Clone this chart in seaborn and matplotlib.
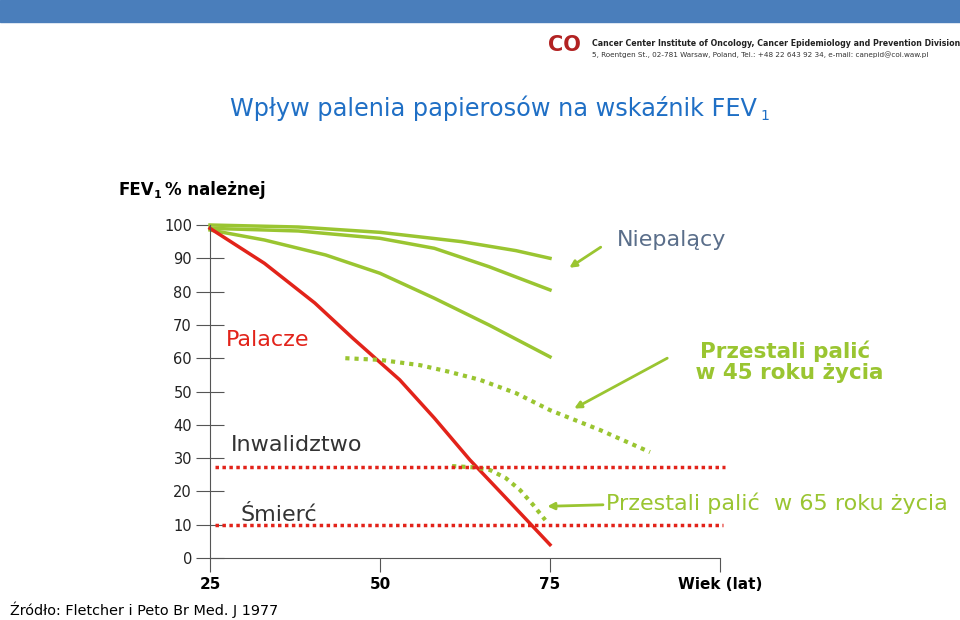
import matplotlib
matplotlib.use("Agg")
import matplotlib.pyplot as plt
import seaborn as sns

nonsmoker_x = [25, 38, 50, 62, 70, 75]
nonsmoker_y = [100, 99.4, 97.8, 95, 92.3, 90]
suscept_x = [25, 38, 50, 58, 66, 75]
suscept_y = [99, 98.2, 96, 93, 87.5, 80.5]
heavy_x = [25, 33, 42, 50, 58, 66, 75]
heavy_y = [98.5, 95.5, 91, 85.5, 78, 70, 60.4]
smoker_x = [25, 33, 40.4, 46, 52.9, 58, 63.2, 69, 75]
smoker_y = [99, 88.5, 76.6, 66, 53.5, 42, 29.5, 17, 4]
quit45_x = [44.9, 50, 55.9, 60, 64.7, 70, 75, 82.4, 89.7]
quit45_y = [60, 59.5, 57.9, 56, 53.5, 49.5, 44.4, 38.4, 31.8]
quit65_x = [60.6, 64, 66.2, 68.5, 70.6, 72.5, 74.3]
quit65_y = [27.6, 27.2, 26.4, 24, 20.4, 16, 11.4]
disability_level = 27.3
death_level = 9.9
y_ticks = [0, 10, 20, 30, 40, 50, 60, 70, 80, 90, 100]
x_ticks = [25, 50, 75, 100]
x_labels = ["25", "50", "75", "Wiek (lat)"]

GREEN = "#9AC531"
RED = "#E2231A"

fig = plt.figure(figsize=(9.6, 6.2), dpi=100)
fig.patches.append(plt.Rectangle((0, 1 - 22/620), 1, 22/620, transform=fig.transFigure, color="#4A7EBB"))
fig.text(0.617, 1 - 44/620, "Cancer Center Institute of Oncology, Cancer Epidemiology and Prevention Division",
         fontsize=5.7, fontweight="bold", color="#222", va="center")
fig.text(0.617, 1 - 55/620, "5, Roentgen St., 02-781 Warsaw, Poland, Tel.: +48 22 643 92 34, e-mail: canepid@coi.waw.pl",
         fontsize=5.2, color="#333", va="center")
fig.text(0.588, 1 - 45/620, "CO", fontsize=15, fontweight="bold", color="#B22222", ha="center", va="center")

fig.text(0.24, 1 - 108/620, "Wpływ palenia papierosów na wskaźnik FEV", fontsize=17.3, color="#1F6FC5", va="center")
fig.text(0.792, 1 - 116/620, "1", fontsize=10, color="#1F6FC5", va="center")
fig.text(0.123, 1 - 190/620, "FEV", fontsize=12, fontweight="bold", va="center")
fig.text(0.160, 1 - 195/620, "1", fontsize=8, fontweight="bold", va="center")
fig.text(0.172, 1 - 190/620, "% należnej", fontsize=12, fontweight="bold", va="center")
fig.text(0.01, 1 - 610/620, "Źródło: Fletcher i Peto Br Med. J 1977", fontsize=10.4, va="center")

ax = fig.add_axes([210/960, 1 - 558/620, 510/960, 333/620])
ax.set_xlim(25, 100)
ax.set_ylim(0, 100)
for s in ["top", "right"]:
    ax.spines[s].set_visible(False)
for s in ["left", "bottom"]:
    ax.spines[s].set_color("#555")
ax.set_yticks(y_ticks)
ax.set_yticklabels([str(v) for v in y_ticks], fontsize=10.5, color="#222")
ax.tick_params(axis="y", direction="inout", length=20, pad=3, color="#555")
ax.set_xticks(x_ticks)
ax.set_xticklabels(x_labels, fontsize=11, fontweight="bold")
ax.tick_params(axis="x", direction="out", length=10, pad=4, color="#555")

for xs, ys in [(nonsmoker_x, nonsmoker_y), (suscept_x, suscept_y), (heavy_x, heavy_y)]:
    sns.lineplot(x=xs, y=ys, ax=ax, color=GREEN, lw=2.5, clip_on=False)
sns.lineplot(x=smoker_x, y=smoker_y, ax=ax, color=RED, lw=2.5, clip_on=False)
for xs, ys in [(quit45_x, quit45_y), (quit65_x, quit65_y)]:
    sns.lineplot(x=xs, y=ys, ax=ax, color=GREEN, lw=3, ls=(0, (1, 1.2)), clip_on=False)
ax.plot([25.7, 100.7], [disability_level] * 2, color=RED, lw=2.5, ls=(0, (1, 1)), clip_on=False)
ax.plot([25.7, 100.5], [death_level] * 2, color=RED, lw=2.5, ls=(0, (1, 1)), clip_on=False)

ax.text(27.4, 65.5, "Palacze", fontsize=16, color=RED, va="center")
ax.text(28, 34, "Inwalidztwo", fontsize=16, color="#333", va="center")
ax.text(29.5, 13, "Śmierć", fontsize=16, color="#333", va="center")
ax.text(84.8, 95.5, "Niepalący", fontsize=16, color="#5A6E8A", va="center")
ax.annotate("", xy=(77.5, 86.7), xytext=(82.8, 93.8), arrowprops=dict(arrowstyle="-|>", color=GREEN, lw=2), annotation_clip=False)
ax.text(109.6, 59, "Przestali palić\n w 45 roku życia", fontsize=15.5, fontweight="bold", color=GREEN,
        ha="center", va="center", linespacing=1.05)
ax.annotate("", xy=(78.2, 44.5), xytext=(92.6, 60.4), arrowprops=dict(arrowstyle="-|>", color=GREEN, lw=2), annotation_clip=False)
ax.text(108.4, 16.5, "Przestali palić  w 65 roku życia", fontsize=16, color=GREEN, ha="center", va="center")
ax.annotate("", xy=(74.2, 15.5), xytext=(83.2, 16), arrowprops=dict(arrowstyle="-|>", color=GREEN, lw=2), annotation_clip=False)

fig.savefig("out.png", dpi=100)
